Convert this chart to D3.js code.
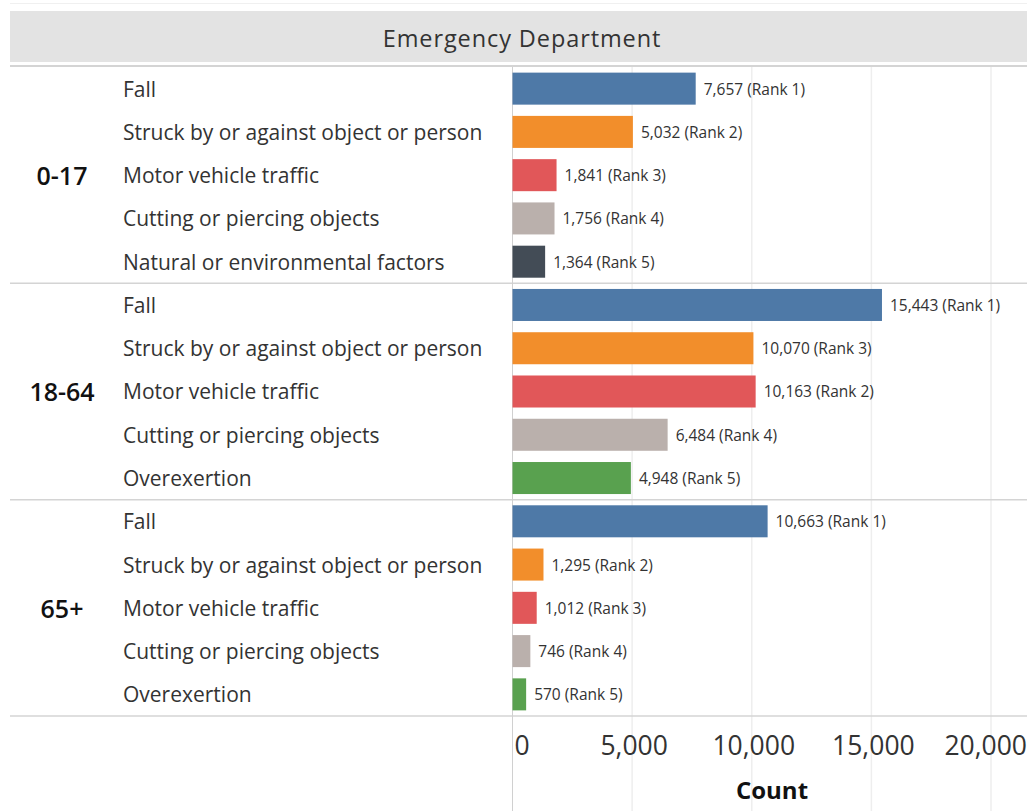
<!DOCTYPE html>
<html>
<head>
<meta charset="utf-8">
<script src="https://cdn.jsdelivr.net/npm/d3@7"></script>
<style>
  body { margin: 0; background: #fff; }
  svg { display: block; font-family: "Open Sans", "Noto Sans", sans-serif; }
</style>
</head>
<body>
<svg width="1027" height="811"></svg>
<script>
const ageGroups = ['0-17', '18-64', '65+'];

const causes = {
  '0-17': ['Fall', 'Struck by or against object or person', 'Motor vehicle traffic',
           'Cutting or piercing objects', 'Natural or environmental factors'],
  '18-64': ['Fall', 'Struck by or against object or person', 'Motor vehicle traffic',
            'Cutting or piercing objects', 'Overexertion'],
  '65+': ['Fall', 'Struck by or against object or person', 'Motor vehicle traffic',
          'Cutting or piercing objects', 'Overexertion']
};

const counts = {
  '0-17': [7657, 5032, 1841, 1756, 1364],
  '18-64': [15443, 10070, 10163, 6484, 4948],
  '65+': [10663, 1295, 1012, 746, 570]
};

const ranks = {
  '0-17': [1, 2, 3, 4, 5],
  '18-64': [1, 3, 2, 4, 5],
  '65+': [1, 2, 3, 4, 5]
};

const xTicks = [0, 5000, 10000, 15000, 20000];

const causeColors = {
  'Fall': '#4e79a7',
  'Struck by or against object or person': '#f28e2b',
  'Motor vehicle traffic': '#e15759',
  'Cutting or piercing objects': '#bab0ac',
  'Natural or environmental factors': '#434c56',
  'Overexertion': '#59a14f'
};

const svg = d3.select('svg');
const W = 1027;

const x = d3.scaleLinear().domain([0, 20000]).range([512.5, 991]);
const yGroup = d3.scaleBand().domain(ageGroups).range([67, 716]);
const yRow = d3.scaleBand().domain(d3.range(5)).range([0, yGroup.bandwidth()]).paddingInner(0.26).paddingOuter(0.13);

const fmt = d3.format(',');

// header
svg.append('rect')
    .attr('x', 10).attr('y', 11)
    .attr('width', W - 10).attr('height', 51)
    .attr('fill', '#e3e3e3');
svg.append('line')
    .attr('x1', 10).attr('x2', W).attr('y1', 3.5).attr('y2', 3.5)
    .attr('stroke', '#f0f0f0');
svg.append('text')
    .attr('x', 522).attr('y', 38)
    .attr('text-anchor', 'middle')
    .attr('dominant-baseline', 'central')
    .attr('font-size', 23.5)
    .attr('letter-spacing', 0.9)
    .attr('fill', '#333')
    .text('Emergency Department');

// gridlines
svg.append('g')
  .selectAll('line')
  .data(xTicks.slice(1))
  .enter().append('line')
    .attr('x1', d => x(d)).attr('x2', d => x(d))
    .attr('y1', 67).attr('y2', 811)
    .attr('stroke', '#eeeeee')
    .attr('stroke-width', 1.5);

// group separators
svg.append('line')
    .attr('x1', 10).attr('x2', W).attr('y1', 66).attr('y2', 66)
    .attr('stroke', '#d4d4d4').attr('stroke-width', 2);
svg.append('g')
  .selectAll('line')
  .data(ageGroups)
  .enter().append('line')
    .attr('x1', 10).attr('x2', W)
    .attr('y1', d => yGroup(d) + yGroup.bandwidth())
    .attr('y2', d => yGroup(d) + yGroup.bandwidth())
    .attr('stroke', '#d4d4d4').attr('stroke-width', 1.5);

// zero line
svg.append('line')
    .attr('x1', x(0)).attr('x2', x(0))
    .attr('y1', 67).attr('y2', 811)
    .attr('stroke', '#d0d0d0');

const group = svg.append('g')
  .selectAll('g')
  .data(ageGroups)
  .enter().append('g')
    .attr('transform', d => `translate(0,${yGroup(d)})`);

group.append('text')
    .attr('x', 62)
    .attr('y', yGroup.bandwidth() / 2)
    .attr('text-anchor', 'middle')
    .attr('dominant-baseline', 'central')
    .attr('font-size', 25)
    .attr('font-weight', 600)
    .attr('fill', '#111')
    .text(d => d);

const row = group.selectAll('g.row')
  .data(g => causes[g].map((c, i) => ({ cause: c, value: counts[g][i], rank: ranks[g][i], i: i })))
  .enter().append('g')
    .attr('class', 'row')
    .attr('transform', d => `translate(0,${yRow(d.i)})`);

row.append('text')
    .attr('x', 123)
    .attr('y', yRow.bandwidth() / 2)
    .attr('dominant-baseline', 'central')
    .attr('font-size', 21)
    .attr('fill', '#333')
    .text(d => d.cause);

row.append('rect')
    .attr('x', x(0))
    .attr('y', 0)
    .attr('width', d => x(d.value) - x(0))
    .attr('height', yRow.bandwidth())
    .attr('fill', d => causeColors[d.cause]);

row.append('text')
    .attr('x', d => x(d.value) + 8)
    .attr('y', yRow.bandwidth() / 2)
    .attr('dominant-baseline', 'central')
    .attr('font-size', 15.5)
    .attr('fill', '#333')
    .text(d => `${fmt(d.value)} (Rank ${d.rank})`);

// x axis labels
svg.append('g')
  .selectAll('text')
  .data(xTicks)
  .enter().append('text')
    .attr('x', d => d === 0 ? x(0) + 2 : d === 20000 ? W : x(d) + 2)
    .attr('y', 745)
    .attr('text-anchor', d => d === 0 ? 'start' : d === 20000 ? 'end' : 'middle')
    .attr('dominant-baseline', 'central')
    .attr('font-size', 26.5)
    .attr('fill', '#333')
    .text(d => fmt(d));

svg.append('text')
    .attr('x', 772)
    .attr('y', 789)
    .attr('text-anchor', 'middle')
    .attr('dominant-baseline', 'central')
    .attr('font-size', 24)
    .attr('font-weight', 700)
    .attr('fill', '#111')
    .text('Count');
</script>
</body>
</html>
